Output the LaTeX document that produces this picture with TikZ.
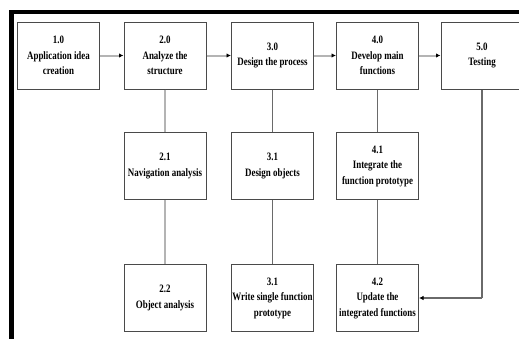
\documentclass[tikz,border=0pt]{standalone}
\usepackage{fontspec}
\setmainfont{Liberation Serif}[FakeStretch=0.79]
\usetikzlibrary{arrows.meta}
\definecolor{boxline}{HTML}{4A4A4A}
\definecolor{lightlink}{HTML}{B4B4B4}
\definecolor{darklink}{HTML}{6A6A6A}
\tikzset{
  stepbox/.style={draw=boxline, line width=1pt, fill=white, minimum width=82pt,
    minimum height=67pt, inner sep=1pt, align=center,
    font=\fontsize{11.3}{15.5}\selectfont\bfseries},
  lightlink/.style={draw=lightlink, line width=2pt},
  darklink/.style={draw=darklink, line width=1.2pt},
  tip/.style={-{Latex[length=4.5pt,width=4.5pt,color=black]}},
}
\begin{document}
\begin{tikzpicture}[x=1pt,y=-1pt]
\useasboundingbox (0,0) rectangle (519,338);
\clip (0,0) rectangle (519,338);
% heavy frame along the top and left
\draw[line width=4.5pt, line cap=rect] (11.5,345) -- (11.5,12) -- (530,12);

% top row: main phases
\node[stepbox] (p1) at (58.5,55.5) {1.0\\Application idea\\creation};
\node[stepbox] (p2) at (165,55.5) {2.0\\Analyze the\\structure};
\node[stepbox] (p3) at (272.5,55.5) {3.0\\Design the process};
\node[stepbox] (p4) at (377.5,55.5) {4.0\\Develop main\\functions};
\node[stepbox] (p5) at (482,55.5) {5.0\\Testing};

% sub-steps
\node[stepbox] (s21) at (165,166) {2.1\\Navigation analysis};
\node[stepbox] (s22) at (165,298) {2.2\\Object analysis};
\node[stepbox] (s31) at (272.5,166) {3.1\\Design objects};
\node[stepbox] (s32) at (272.5,298) {3.1\\Write single function\\prototype};
\node[stepbox] (s41) at (377.5,166) {4.1\\Integrate the\\function prototype};
\node[stepbox] (s42) at (377.5,298) {4.2\\Update the\\integrated functions};

% flow between the main phases
\draw[lightlink, tip] (p1) -- (p2);
\draw[lightlink, tip] (p2) -- (p3);
\draw[lightlink, tip] (p3) -- (p4);
\draw[lightlink, tip] (p4) -- (p5);

% links to the sub-steps
\draw[lightlink] (p2) -- (s21);
\draw[lightlink] (s21) -- (s22);
\draw[darklink] (p3) -- (s31);
\draw[darklink] (s31) -- (s32);
\draw[darklink] (p4) -- (s41);
\draw[darklink] (s41) -- (s42);

% testing feeds back into the update step
\coordinate (bend) at (p5.center |- s42.east);
\draw[darklink] (p5.south) -- (bend);
\draw[darklink, tip] (bend) -- (s42.east);
\end{tikzpicture}
\end{document}
